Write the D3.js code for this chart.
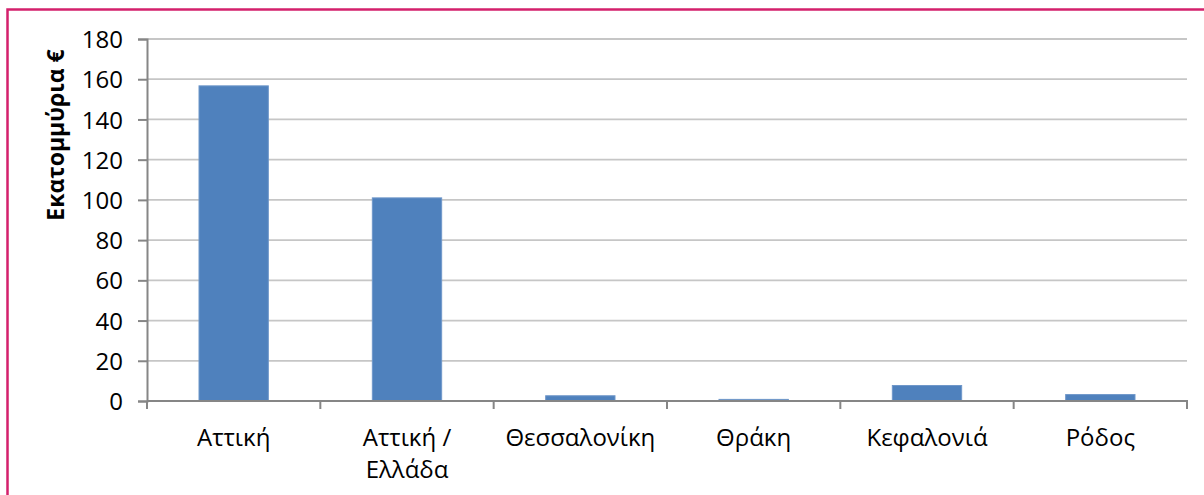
<!DOCTYPE html>
<html>
<head>
<meta charset="utf-8">
<script src="https://cdn.jsdelivr.net/npm/d3@7"></script>
<style>
  body { margin: 0; background: #fff; }
  text { font-family: "Open Sans", "Noto Sans", sans-serif; fill: #000; }
</style>
</head>
<body>
<svg id="chart"></svg>
<script>
// Δεδομένα του γραφήματος
const categories = ["Αττική", "Αττική / Ελλάδα", "Θεσσαλονίκη", "Θράκη", "Κεφαλονιά", "Ρόδος"];
const values = [156.7, 101, 2.6, 0.8, 7.7, 3.2];
const yTicks = [0, 20, 40, 60, 80, 100, 120, 140, 160, 180];
const yTitle = "Εκατομμύρια €";

const W = 1204, H = 495;
const margin = { top: 39, right: 17, bottom: 94, left: 147 };

const svg = d3.select("#chart")
    .attr("width", W)
    .attr("height", H);

// Πλαίσιο (μόνο πάνω και αριστερά φαίνονται)
svg.append("rect")
    .attr("x", 7.5)
    .attr("y", 9.5)
    .attr("width", W + 20)
    .attr("height", H + 20)
    .attr("fill", "none")
    .attr("stroke", "#d4206c")
    .attr("stroke-width", 2.5);

// Κλίμακες
const x = d3.scaleBand()
    .domain(categories)
    .range([margin.left, W - margin.right])
    .paddingInner(0.6)
    .paddingOuter(0.3);

const xCat = d3.scaleBand()
    .domain(categories)
    .range([margin.left, W - margin.right]);

const y = d3.scaleLinear()
    .domain([0, 180])
    .range([H - margin.bottom, margin.top]);

// Γραμμές πλέγματος
svg.append("g")
    .selectAll("line")
    .data(yTicks.slice(1))
    .join("line")
    .attr("x1", margin.left)
    .attr("x2", W - margin.right)
    .attr("y1", d => y(d))
    .attr("y2", d => y(d))
    .attr("stroke", "#c6c6c6")
    .attr("stroke-width", 1.8);

// Άξονας Υ
const yAxis = svg.append("g")
    .attr("transform", `translate(${margin.left}, 0)`)
    .call(d3.axisLeft(y).tickValues(yTicks).tickSize(9).tickPadding(15));
yAxis.select(".domain").attr("stroke", "#868686").attr("stroke-width", 2);
yAxis.selectAll(".tick line").attr("stroke", "#868686").attr("stroke-width", 2);
yAxis.selectAll(".tick text")
    .attr("font-size", 24)
    .attr("dy", "0.36em")
    .style("font-family", "'Open Sans', sans-serif");

// Στήλες
svg.append("g")
    .selectAll("rect")
    .data(values)
    .join("rect")
    .attr("x", (d, i) => x(categories[i]))
    .attr("y", d => y(d))
    .attr("width", x.bandwidth())
    .attr("height", d => y(0) - y(d))
    .attr("fill", "#4f81bd")
    .attr("stroke", "#6f97c9")
    .attr("stroke-width", 1);

// Άξονας Χ
const y0 = y(0);
svg.append("line")
    .attr("x1", margin.left)
    .attr("x2", W - margin.right + 1)
    .attr("y1", y0)
    .attr("y2", y0)
    .attr("stroke", "#868686")
    .attr("stroke-width", 2);

const bounds = categories.map(c => xCat(c)).concat([W - margin.right]);
svg.append("g")
    .selectAll("line")
    .data(bounds)
    .join("line")
    .attr("x1", d => d)
    .attr("x2", d => d)
    .attr("y1", y0)
    .attr("y2", y0 + 8)
    .attr("stroke", "#868686")
    .attr("stroke-width", 2);

// Ετικέτες κατηγοριών με αναδίπλωση
function wrap(textSel, maxW) {
    textSel.each(function() {
        const t = d3.select(this);
        const words = t.text().split(" ");
        t.text(null);
        let line = [];
        let tspan = t.append("tspan").attr("x", t.attr("x")).attr("dy", 0);
        words.forEach(w => {
            line.push(w);
            tspan.text(line.join(" "));
            if (tspan.node().getComputedTextLength() > maxW && line.length > 1) {
                line.pop();
                tspan.text(line.join(" "));
                line = [w];
                tspan = t.append("tspan").attr("x", t.attr("x")).attr("dy", 32).text(w);
            }
        });
    });
}

svg.append("g")
    .selectAll("text")
    .data(categories)
    .join("text")
    .attr("x", d => xCat(d) + xCat.bandwidth() / 2)
    .attr("y", y0 + 45)
    .attr("text-anchor", "middle")
    .attr("font-size", 24)
    .text(d => d)
    .call(wrap, xCat.bandwidth() * 0.9);

// Τίτλος άξονα Υ
svg.append("text")
    .attr("transform", "translate(64, 135) rotate(-90)")
    .attr("text-anchor", "middle")
    .attr("font-size", 23)
    .attr("font-weight", "bold")
    .text(yTitle);
</script>
</body>
</html>
